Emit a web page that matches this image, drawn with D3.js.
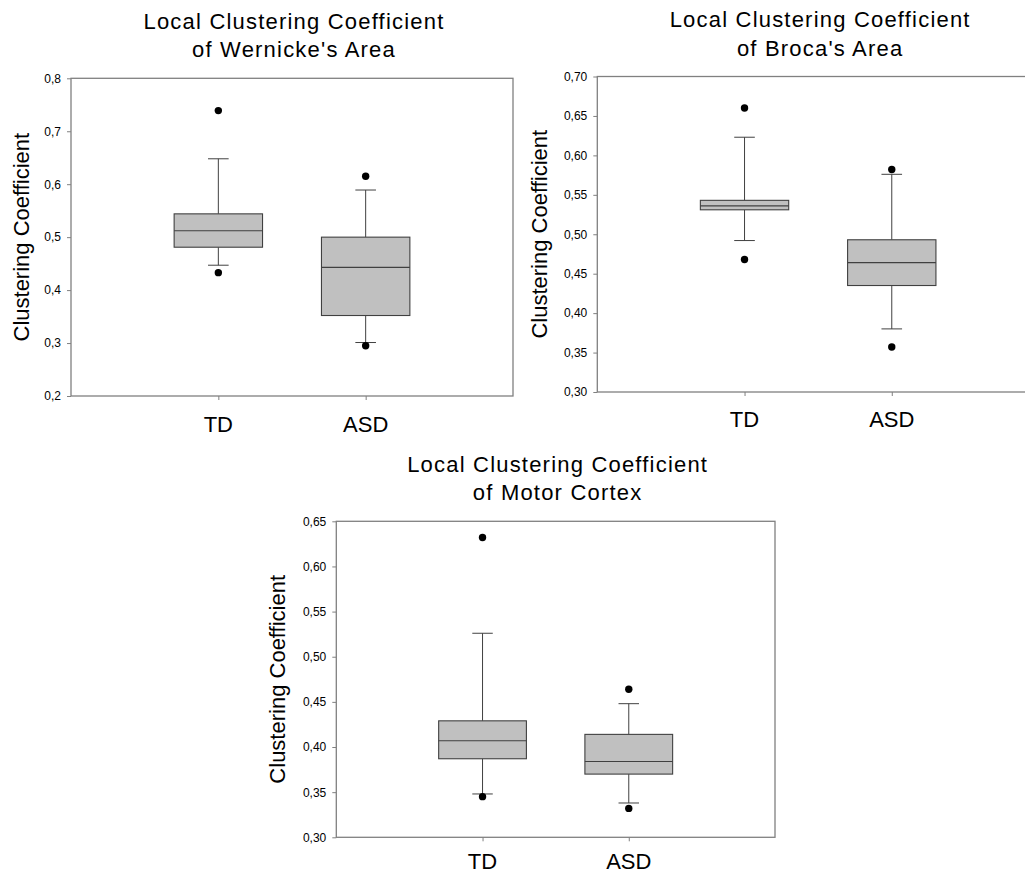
<!DOCTYPE html>
<html>
<head>
<meta charset="utf-8">
<script src="https://cdn.jsdelivr.net/npm/d3@7"></script>
<style>
    body { margin: 0; background: #fff; }
    svg { display: block; }
    text { font-family: "Liberation Sans", Arial, sans-serif; fill: #000; }
</style>
</head>
<body>
<svg id="chart" width="1025" height="875"></svg>
<script>
let groups = ['TD', 'ASD']

// per group: [whisker low, q1, median, q3, whisker high]
let wernicke_box = [[0.447, 0.481, 0.512, 0.544, 0.648], [0.301, 0.352, 0.443, 0.500, 0.589]]
let wernicke_out = [[0.739, 0.433], [0.615, 0.295]]
let wernicke_ticks = [0.2, 0.3, 0.4, 0.5, 0.6, 0.7, 0.8]

let broca_box = [[0.492, 0.531, 0.536, 0.543, 0.623], [0.380, 0.435, 0.464, 0.493, 0.576]]
let broca_out = [[0.660, 0.468], [0.582, 0.357]]
let broca_ticks = [0.30, 0.35, 0.40, 0.45, 0.50, 0.55, 0.60, 0.65, 0.70]

let motor_box = [[0.348, 0.387, 0.407, 0.429, 0.526], [0.338, 0.370, 0.384, 0.414, 0.448]]
let motor_out = [[0.632, 0.345], [0.464, 0.332]]
let motor_ticks = [0.30, 0.35, 0.40, 0.45, 0.50, 0.55, 0.60, 0.65]

let y_title = 'Clustering Coefficient'

let box_fill = '#c0c0c0'
let box_stroke = '#404040'
let frame_stroke = '#808080'

let comma = d3.formatLocale({decimal: ',', thousands: '.', grouping: [3], currency: ['', '']})

let svg = d3.select('#chart')

function draw_panel(pos, title, boxes, outliers, ticks, digits) {
    let w = pos.r - pos.l
    let h = pos.b - pos.t

    let g = svg.append('g').attr('transform', `translate(${pos.l},${pos.t})`)

    let x = d3.scalePoint().domain(groups).range([0, w]).padding(1)
    let y = d3.scaleLinear().domain(d3.extent(ticks)).range([h, 0])

    let box_w = x.step() * 0.6
    let cap_w = x.step() * 0.14

    // axes
    let ya = g.append('g')
        .call(d3.axisLeft(y).tickValues(ticks).tickSize(4).tickPadding(6)
            .tickFormat(comma.format(`.${digits}f`)))
    ya.select('.domain').remove()
    ya.selectAll('line').attr('stroke', frame_stroke)
    ya.selectAll('text').style('font-size', '12px').style('font-family', '"Liberation Sans", Arial, sans-serif')

    let xa = g.append('g').attr('transform', `translate(0,${h})`)
        .call(d3.axisBottom(x).tickSize(4).tickFormat(''))
    xa.select('.domain').remove()
    xa.selectAll('line').attr('stroke', frame_stroke)

    g.append('rect')
        .attr('width', w).attr('height', h)
        .attr('fill', 'none')
        .attr('stroke', frame_stroke)
        .attr('stroke-width', 1.3)

    // boxes
    let bx = g.selectAll('g.box').data(groups).enter()
        .append('g').classed('box', true)
        .attr('transform', d => `translate(${x(d)},0)`)

    bx.append('line')
        .attr('y1', (d, i) => y(boxes[i][0])).attr('y2', (d, i) => y(boxes[i][1]))
        .attr('stroke', box_stroke)
    bx.append('line')
        .attr('y1', (d, i) => y(boxes[i][3])).attr('y2', (d, i) => y(boxes[i][4]))
        .attr('stroke', box_stroke)

    ;[0, 4].forEach(k => {
        bx.append('line')
            .attr('x1', -cap_w / 2).attr('x2', cap_w / 2)
            .attr('y1', (d, i) => y(boxes[i][k])).attr('y2', (d, i) => y(boxes[i][k]))
            .attr('stroke', box_stroke)
    })

    bx.append('rect')
        .attr('x', -box_w / 2).attr('width', box_w)
        .attr('y', (d, i) => y(boxes[i][3]))
        .attr('height', (d, i) => y(boxes[i][1]) - y(boxes[i][3]))
        .attr('fill', box_fill)
        .attr('stroke', box_stroke)
        .attr('stroke-width', 1.1)

    bx.append('line')
        .attr('x1', -box_w / 2).attr('x2', box_w / 2)
        .attr('y1', (d, i) => y(boxes[i][2])).attr('y2', (d, i) => y(boxes[i][2]))
        .attr('stroke', box_stroke)
        .attr('stroke-width', 1.1)

    bx.each(function (d, i) {
        d3.select(this).selectAll('circle').data(outliers[i]).enter()
            .append('circle')
            .attr('cy', v => y(v))
            .attr('r', 3.7)
            .attr('fill', '#000')
    })

    // group labels
    g.selectAll('text.grp').data(groups).enter()
        .append('text').classed('grp', true)
        .attr('x', d => x(d)).attr('y', h + pos.lab)
        .attr('text-anchor', 'middle')
        .style('font-size', '22px')
        .text(d => d)

    // y title
    svg.append('text')
        .attr('transform', `translate(${pos.ylab},${pos.t + h / 2}) rotate(-90)`)
        .attr('text-anchor', 'middle')
        .style('font-size', '22px')
        .text(y_title)

    // panel title
    svg.selectAll(null).data(title).enter()
        .append('text')
        .attr('x', pos.l + w / 2 + 2)
        .attr('y', (d, i) => pos.t - 49.5 + i * 28.5)
        .attr('text-anchor', 'middle')
        .style('font-size', '22px')
        .style('letter-spacing', '1.2px')
        .text(d => d)
}

draw_panel({l: 71, t: 78.3, r: 513, b: 396, ylab: 28.5, lab: 36},
    ['Local Clustering Coefficient', "of Wernicke's Area"],
    wernicke_box, wernicke_out, wernicke_ticks, 1)

draw_panel({l: 597.3, t: 76.5, r: 1039, b: 392, ylab: 547, lab: 35},
    ['Local Clustering Coefficient', "of Broca's Area"],
    broca_box, broca_out, broca_ticks, 2)

draw_panel({l: 336.3, t: 521.3, r: 775, b: 837.3, ylab: 285.4, lab: 31.5},
    ['Local Clustering Coefficient', 'of Motor Cortex'],
    motor_box, motor_out, motor_ticks, 2)
</script>
</body>
</html>
